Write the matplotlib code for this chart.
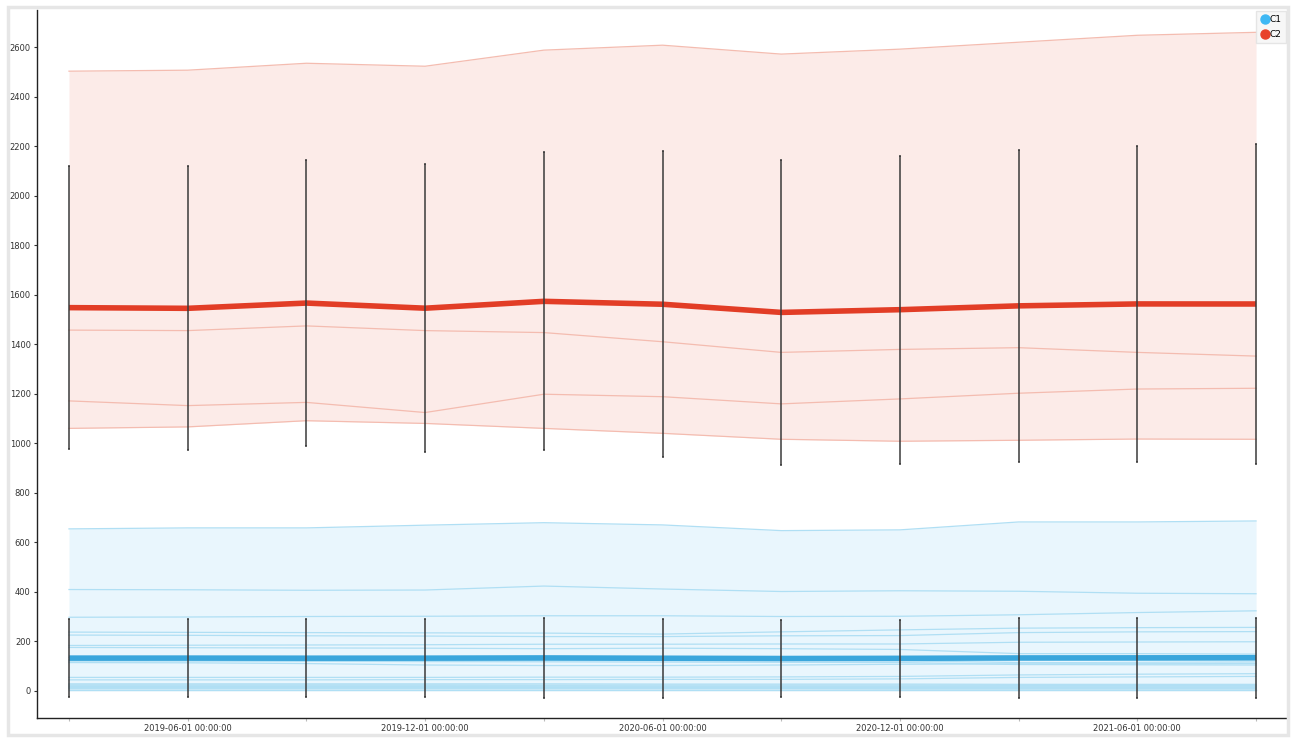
import numpy as np
import matplotlib
matplotlib.use("Agg")
import matplotlib.pyplot as plt
from matplotlib.lines import Line2D
from matplotlib.patches import Rectangle

# 时间点 (季度)
dates = ["2019-03-01 00:00:00", "2019-06-01 00:00:00", "2019-09-01 00:00:00",
         "2019-12-01 00:00:00", "2020-03-01 00:00:00", "2020-06-01 00:00:00",
         "2020-09-01 00:00:00", "2020-12-01 00:00:00", "2021-03-01 00:00:00",
         "2021-06-01 00:00:00", "2021-09-01 00:00:00"]

# C2 各条曲线
c2_a = [2503, 2507, 2535, 2523, 2588, 2608, 2572, 2592, 2620, 2648, 2660]
c2_b = [1457, 1455, 1474, 1455, 1447, 1410, 1367, 1379, 1386, 1367, 1352]
c2_c = [1171, 1152, 1165, 1124, 1198, 1188, 1159, 1179, 1202, 1219, 1222]
c2_d = [1060, 1066, 1091, 1080, 1060, 1040, 1016, 1008, 1012, 1017, 1016]

# C1 各条曲线
c1_01 = [654, 658, 658, 669, 679, 670, 647, 650, 682, 682, 686]
c1_02 = [409, 408, 406, 407, 423, 411, 401, 404, 402, 394, 392]
c1_03 = [297, 298, 300, 301, 303, 303, 300, 301, 307, 316, 323]
c1_04 = [237, 236, 235, 234, 233, 229, 238, 246, 253, 255, 256]
c1_05 = [225, 224, 222, 221, 219, 219, 222, 223, 235, 238, 239]
c1_06 = [183, 184, 185, 186, 188, 188, 189, 189, 196, 197, 198]
c1_07 = [175, 174, 173, 172, 170, 172, 170, 167, 150, 150, 148]
c1_08 = [135, 135, 135, 134, 134, 133, 133, 132, 124, 122, 120]
c1_09 = [125, 125, 124, 124, 123, 122, 122, 121, 114, 113, 112]
c1_10 = [120, 120, 119, 118, 117, 116, 115, 114, 106, 105, 104]
c1_11 = [114, 113, 110, 104, 102, 102, 104, 107, 109, 109, 110]
c1_12 = [54, 54, 54, 54, 55, 55, 56, 58, 64, 67, 69]
c1_13 = [44, 44, 44, 45, 45, 46, 46, 48, 54, 56, 58]
c1_14 = [28, 28, 28, 28, 28, 27, 27, 27, 26, 26, 26]
c1_15 = [24, 24, 24, 24, 23, 23, 23, 23, 22, 22, 22]
c1_16 = [20, 20, 20, 20, 20, 19, 19, 19, 19, 19, 19]
c1_17 = [17, 17, 17, 17, 16, 16, 16, 16, 16, 16, 16]
c1_18 = [14, 14, 14, 14, 14, 13, 13, 13, 13, 13, 13]
c1_19 = [11, 11, 11, 11, 11, 11, 10, 10, 10, 10, 10]
c1_20 = [8, 8, 8, 8, 8, 8, 8, 7, 7, 7, 7]
c1_21 = [5, 5, 5, 5, 5, 5, 5, 5, 5, 5, 5]
c1_22 = [3, 3, 3, 3, 3, 3, 3, 3, 3, 3, 3]

c1 = np.array([c1_01, c1_02, c1_03, c1_04, c1_05, c1_06, c1_07, c1_08, c1_09, c1_10, c1_11,
               c1_12, c1_13, c1_14, c1_15, c1_16, c1_17, c1_18, c1_19, c1_20, c1_21, c1_22], float)
c2 = np.array([c2_a, c2_b, c2_c, c2_d], float)

groups = [
    # 名称, 数据, 主色, 填充色, 细线色, 图例色
    ("C1", c1, "#3aa6dc", "#e9f6fd", "#b0dff4", "#3fb8f4"),
    ("C2", c2, "#e23d26", "#fcebe8", "#f4bcb0", "#e8422b"),
]

x = np.arange(len(dates))

fig = plt.figure(figsize=(12.96, 7.38), dpi=100)
fig.patches.append(Rectangle((0.006, 0.004), 0.988, 0.987, transform=fig.transFigure,
                             fill=False, edgecolor="#e6e6e6", linewidth=2.5))
ax = fig.add_axes([0.0285, 0.0271, 0.9645, 0.9593])

for name, data, main, fill, thin, leg in groups:
    ax.fill_between(x, data.min(axis=0), data.max(axis=0), color=fill, linewidth=0, zorder=1)
    for row in data:
        ax.plot(x, row, color=thin, linewidth=0.9, zorder=2)

for name, data, main, fill, thin, leg in groups:
    mean = data.mean(axis=0)
    std = data.std(axis=0)
    ax.plot(x, mean, color=main, linewidth=4, zorder=3, solid_capstyle="butt")
    ax.errorbar(x, mean, yerr=std, fmt="none", ecolor="#3a3a3a", elinewidth=1.1,
                capsize=0.8, capthick=1.1, zorder=4)

ax.set_xlim(-0.27, 10.26)
ax.set_ylim(-110, 2750)
ax.set_yticks(np.arange(0, 2601, 200))
ax.set_xticks(x)
ax.set_xticklabels([d if i % 2 == 1 else "" for i, d in enumerate(dates)])
ax.tick_params(axis="both", labelsize=6, colors="#333333", length=2.5, width=0.8, pad=2)
ax.tick_params(axis="x", colors="#bbbbbb", labelcolor="#333333", pad=2)
for s in ["top", "right"]:
    ax.spines[s].set_visible(False)
for s in ["left", "bottom"]:
    ax.spines[s].set_color("#222222")
    ax.spines[s].set_linewidth(1)

handles = [Line2D([], [], marker="o", linestyle="none", markersize=6.5,
                  markerfacecolor=g[5], markeredgecolor=g[5], label=g[0]) for g in groups]
leg = ax.legend(handles=handles, loc="upper right", bbox_to_anchor=(1.0, 1.0),
                fontsize=6.5, frameon=True, handletextpad=0.05, borderpad=0.5,
                labelspacing=0.6, handlelength=0.9, borderaxespad=0.1, fancybox=False)
leg.get_frame().set_facecolor("#f6f6f6")
leg.get_frame().set_edgecolor("#e0e0e0")

plt.savefig("out.png", dpi=100)
